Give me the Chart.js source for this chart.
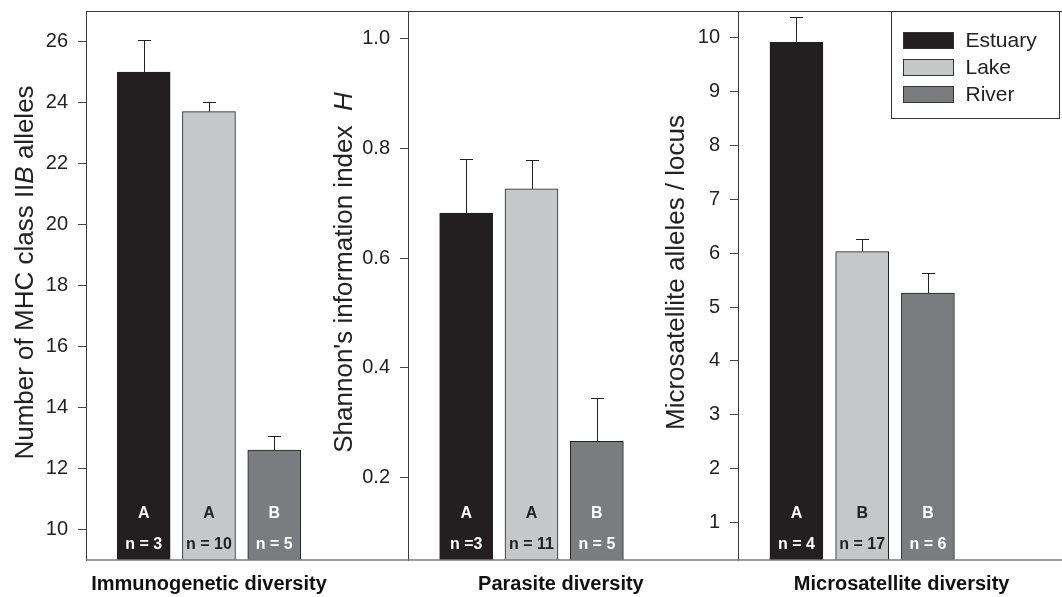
<!DOCTYPE html>
<html>
<head>
<meta charset="utf-8">
<script src="https://cdn.jsdelivr.net/npm/chart.js@4"></script>
<style>
  html, body { margin: 0; padding: 0; background: #fff; }
  #wrap { position: relative; width: 1062px; height: 597px; overflow: hidden; }
  #wrap canvas { position: absolute; top: 0; }
</style>
</head>
<body>
<div id="wrap">
  <canvas id="mhc" width="408" height="597" style="left:0"></canvas>
  <canvas id="parasite" width="408" height="597" style="left:330px"></canvas>
  <canvas id="msat" width="402" height="597" style="left:660px"></canvas>
</div>
<script>
const habitats = ['Estuary', 'Lake', 'River']
const habitatColors = ['#231f20', '#c6c7c9', '#7b7c80']
const labelInk = ['#ffffff', '#222222', '#ffffff']

// immunogenetic diversity
const mhcMeans = [25.0, 23.7, 12.6]
const mhcSE = [1.05, 0.3, 0.45]
const mhcGroups = ['A', 'A', 'B']
const mhcN = ['n = 3', 'n = 10', 'n = 5']
const mhcTicks = [10, 12, 14, 16, 18, 20, 22, 24, 26]

// parasite diversity
const parasiteMeans = [0.682, 0.726, 0.266]
const parasiteSE = [0.099, 0.053, 0.079]
const parasiteGroups = ['A', 'A', 'B']
const parasiteN = ['n =3', 'n = 11', 'n = 5']
const parasiteTicks = [0.2, 0.4, 0.6, 0.8, 1.0]

// microsatellite diversity
const msatMeans = [9.92, 6.03, 5.26]
const msatSE = [0.46, 0.23, 0.37]
const msatGroups = ['A', 'B', 'B']
const msatN = ['n = 4', 'n = 17', 'n = 6']
const msatTicks = [1, 2, 3, 4, 5, 6, 7, 8, 9, 10]

const FONT = "'Liberation Sans', Arial, Helvetica, sans-serif"
Chart.defaults.font.family = FONT
Chart.defaults.color = '#222'

// error bars (upper half only), group letters and sample sizes
const barExtras = {
  id: 'barExtras',
  afterDatasetsDraw(chart, args, opts) {
    const { ctx, chartArea } = chart
    const yScale = chart.scales.y
    ctx.save()
    chart.data.datasets.forEach((ds, i) => {
      const bar = chart.getDatasetMeta(i).data[0]
      const top = yScale.getPixelForValue(opts.means[i] + opts.se[i])
      const cx = Math.round(bar.x) + 0.5
      ctx.strokeStyle = '#222'
      ctx.lineWidth = 1
      ctx.beginPath()
      ctx.moveTo(cx, bar.y)
      ctx.lineTo(cx, Math.round(top) + 0.5)
      ctx.moveTo(cx - 6.5, Math.round(top) + 0.5)
      ctx.lineTo(cx + 6.5, Math.round(top) + 0.5)
      ctx.stroke()

      ctx.fillStyle = labelInk[i]
      ctx.textAlign = 'center'
      ctx.textBaseline = 'alphabetic'
      ctx.font = 'bold 16px ' + FONT
      ctx.fillText(opts.groups[i], bar.x, chartArea.bottom - 42)
      ctx.fillText(opts.n[i], bar.x, chartArea.bottom - 11)
    })
    ctx.restore()
  },
}

// top / bottom frame lines, rotated y title, caption under the panel
const panelDecor = {
  id: 'panelDecor',
  afterDraw(chart, args, opts) {
    const { ctx, chartArea } = chart
    ctx.save()
    ctx.lineWidth = 1
    ctx.strokeStyle = '#3a3a3a'
    ctx.beginPath()
    ctx.moveTo(chartArea.left, chartArea.top + 0.5)
    ctx.lineTo(chartArea.right, chartArea.top + 0.5)
    ctx.stroke()
    ctx.strokeStyle = '#7a7a7a'
    ctx.lineWidth = 1.5
    ctx.beginPath()
    ctx.moveTo(chartArea.left, chartArea.bottom)
    ctx.lineTo(chartArea.right, chartArea.bottom)
    ctx.stroke()

    // y title, may contain italic parts
    ctx.fillStyle = '#222'
    ctx.textBaseline = 'alphabetic'
    ctx.textAlign = 'left'
    const fontOf = (p) => (p.italic ? 'italic ' : '') + '26px ' + FONT
    let total = 0
    opts.title.forEach((p) => {
      ctx.font = fontOf(p)
      total += ctx.measureText(p.text).width
    })
    ctx.translate(chartArea.left - opts.titleOffset, (chartArea.top + chartArea.bottom) / 2 - 13)
    ctx.rotate(-Math.PI / 2)
    let x = -total / 2
    opts.title.forEach((p) => {
      ctx.font = fontOf(p)
      ctx.fillText(p.text, x, 0)
      x += ctx.measureText(p.text).width
    })
    ctx.setTransform(1, 0, 0, 1, 0, 0)

    ctx.font = 'bold 20px ' + FONT
    ctx.textAlign = 'center'
    ctx.fillStyle = '#111'
    ctx.fillText(opts.caption, chart.scales.x.getPixelForValue(opts.captionAt), chartArea.bottom + 30)
    ctx.restore()
  },
}

// boxed legend in the top right corner
const boxLegend = {
  id: 'boxLegend',
  afterDraw(chart, args, opts) {
    if (!opts.show) return
    const { ctx, chartArea } = chart
    const left = chartArea.right - 170.5
    const top = chartArea.top + 0.5
    ctx.save()
    ctx.fillStyle = '#fff'
    ctx.fillRect(left, top, 168, 107)
    ctx.strokeStyle = '#333'
    ctx.lineWidth = 1
    ctx.strokeRect(left, top, 168, 107)
    chart.data.datasets.forEach((ds, i) => {
      const y = top + 21 + i * 27
      ctx.fillStyle = ds.backgroundColor
      ctx.fillRect(left + 12, y, 50, 16)
      ctx.strokeStyle = '#333'
      ctx.strokeRect(left + 12, y, 50, 16)
      ctx.fillStyle = '#222'
      ctx.font = '21px ' + FONT
      ctx.textAlign = 'left'
      ctx.textBaseline = 'middle'
      ctx.fillText(ds.label, left + 74, y + 8.5)
    })
    ctx.restore()
  },
}

function makePanel(id, p) {
  const ctx = document.getElementById(id).getContext('2d')
  return new Chart(ctx, {
    type: 'bar',
    data: {
      datasets: habitats.map((h, i) => ({
        label: h,
        data: [{ x: i + 1, y: p.means[i] }],
        backgroundColor: habitatColors[i],
        borderColor: '#222',
        borderWidth: 1,
        barThickness: 53,
        grouped: false,
      })),
    },
    options: {
      responsive: false,
      animation: false,
      devicePixelRatio: 1,
      layout: { padding: { top: 11, bottom: 37, left: 0, right: 0 } },
      scales: {
        x: { type: 'linear', display: false, offset: false, min: p.xMin, max: p.xMax },
        y: {
          min: p.yMin,
          max: p.yMax,
          afterBuildTicks: (scale) => {
            scale.ticks = p.ticks.map((v) => ({ value: v }))
          },
          afterFit: (scale) => {
            scale.width = p.axisWidth
            scale.paddingTop = 0
            scale.paddingBottom = 0
          },
          ticks: {
            padding: 10,
            color: '#222',
            font: { size: 20 },
            callback: p.format,
          },
          grid: { drawOnChartArea: false, tickLength: 8, color: '#444', tickWidth: 1 },
          border: { color: '#3a3a3a', width: 1 },
        },
      },
      plugins: {
        legend: { display: false },
        tooltip: { enabled: false },
        barExtras: { means: p.means, se: p.se, groups: p.groups, n: p.n },
        panelDecor: { title: p.title, titleOffset: p.titleOffset, caption: p.caption, captionAt: p.captionAt },
        boxLegend: { show: !!p.legend },
      },
    },
    plugins: [barExtras, panelDecor, boxLegend],
  })
}

makePanel('mhc', {
  means: mhcMeans, se: mhcSE, groups: mhcGroups, n: mhcN, ticks: mhcTicks,
  yMin: 9, yMax: 27, xMin: 0.117, xMax: 5.048, axisWidth: 86,
  format: (v) => String(v),
  title: [{ text: 'Number of MHC class II' }, { text: 'B', italic: true }, { text: ' alleles' }],
  titleOffset: 53,
  caption: 'Immunogenetic diversity', captionAt: 2,
})

makePanel('parasite', {
  means: parasiteMeans, se: parasiteSE, groups: parasiteGroups, n: parasiteN, ticks: parasiteTicks,
  yMin: 0.05, yMax: 1.05, xMin: 0.11, xMax: 5.16, axisWidth: 78,
  format: (v) => v.toFixed(1),
  title: [{ text: "Shannon's information index  " }, { text: 'H', italic: true }],
  titleOffset: 56,
  caption: 'Parasite diversity', captionAt: 2.45,
})

makePanel('msat', {
  means: msatMeans, se: msatSE, groups: msatGroups, n: msatN, ticks: msatTicks,
  yMin: 0.3, yMax: 10.5, xMin: 0.111, xMax: 5.04, axisWidth: 78,
  format: (v) => String(v),
  title: [{ text: 'Microsatellite alleles / locus' }],
  titleOffset: 54,
  caption: 'Microsatellite diversity', captionAt: 2.6,
  legend: true,
})
</script>
</body>
</html>
